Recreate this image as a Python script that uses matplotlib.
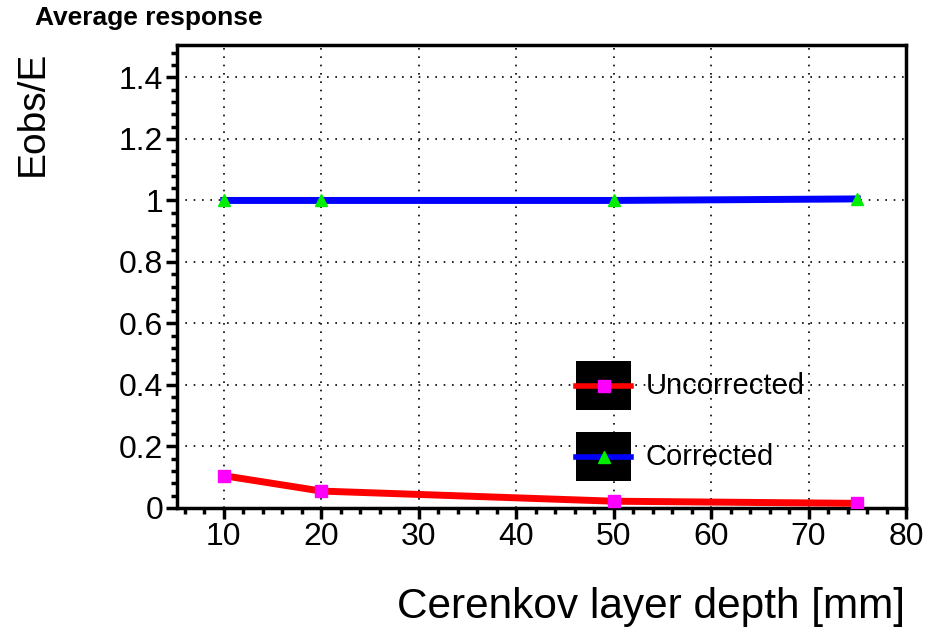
import matplotlib
matplotlib.use("Agg")
import matplotlib.pyplot as plt
from matplotlib.patches import Rectangle
from matplotlib.lines import Line2D
from matplotlib.ticker import MultipleLocator

plt.rcParams['font.family'] = ['Liberation Sans', 'DejaVu Sans']

# layer depths and average response
depth = [10, 20, 50, 75]
uncorrected = [0.105, 0.055, 0.022, 0.015]
corrected = [1.0, 1.0, 1.0, 1.005]

fig = plt.figure(figsize=(9.28, 6.36), dpi=100)
ax = fig.add_axes([0.1907, 0.2013, 0.7856, 0.7277])

ax.plot(depth, uncorrected, color='red', lw=5, zorder=3)
ax.plot(depth, uncorrected, ls='none', marker='s', ms=9, mfc='magenta', mec='magenta', zorder=4)
ax.plot(depth, corrected, color='blue', lw=5, zorder=3)
ax.plot(depth, corrected, ls='none', marker='^', ms=8, mfc='#00ee00', mec='#00ee00', zorder=4)

ax.set_xlim(5.2, 80)
ax.set_ylim(0, 1.505)
ax.xaxis.set_major_locator(MultipleLocator(10))
ax.xaxis.set_minor_locator(MultipleLocator(2))
ax.yaxis.set_major_locator(MultipleLocator(0.2))
ax.yaxis.set_minor_locator(MultipleLocator(0.04))
ax.yaxis.set_major_formatter(plt.FuncFormatter(lambda v, p: f"{v:g}"))
ax.tick_params(which='major', direction='out', length=8, width=2.5, labelsize=23, pad=2)
ax.tick_params(which='minor', direction='out', length=4, width=2.5)
ax.tick_params(top=False, right=False)
for s in ax.spines.values():
    s.set_linewidth(2.5)

ax.grid(True, which='major', color='black', ls=(0, (1, 4)), lw=1.2)
ax.set_axisbelow(True)

fig.text(0.038, 0.972, "Average response", fontsize=19, fontweight='bold', va='center')
fig.text(0.035, 0.822, "Eobs/E", fontsize=28, rotation=90, va='center', ha='center')
fig.text(0.975, 0.045, "Cerenkov layer depth [mm]", fontsize=30.5, ha='right', va='center')

# hand-made legend with black boxes behind the samples
entries = [("Uncorrected", 'red', 's', 'magenta', 0.264),
           ("Corrected", 'blue', '^', '#00ee00', 0.111)]
for label, lc, mk, mc, yc in entries:
    ax.add_patch(Rectangle((0.548, yc - 0.053), 0.075, 0.106, transform=ax.transAxes,
                           facecolor='black', edgecolor='none', zorder=5))
    ax.add_line(Line2D([0.548, 0.623], [yc, yc], transform=ax.transAxes, color=lc, lw=4, zorder=6))
    ax.add_line(Line2D([0.5855], [yc], transform=ax.transAxes, marker=mk, ms=8,
                       mfc=mc, mec=mc, zorder=7))
    ax.text(0.643, yc, label, transform=ax.transAxes, fontsize=21, va='center', zorder=7)

fig.savefig("out.png", dpi=100)
